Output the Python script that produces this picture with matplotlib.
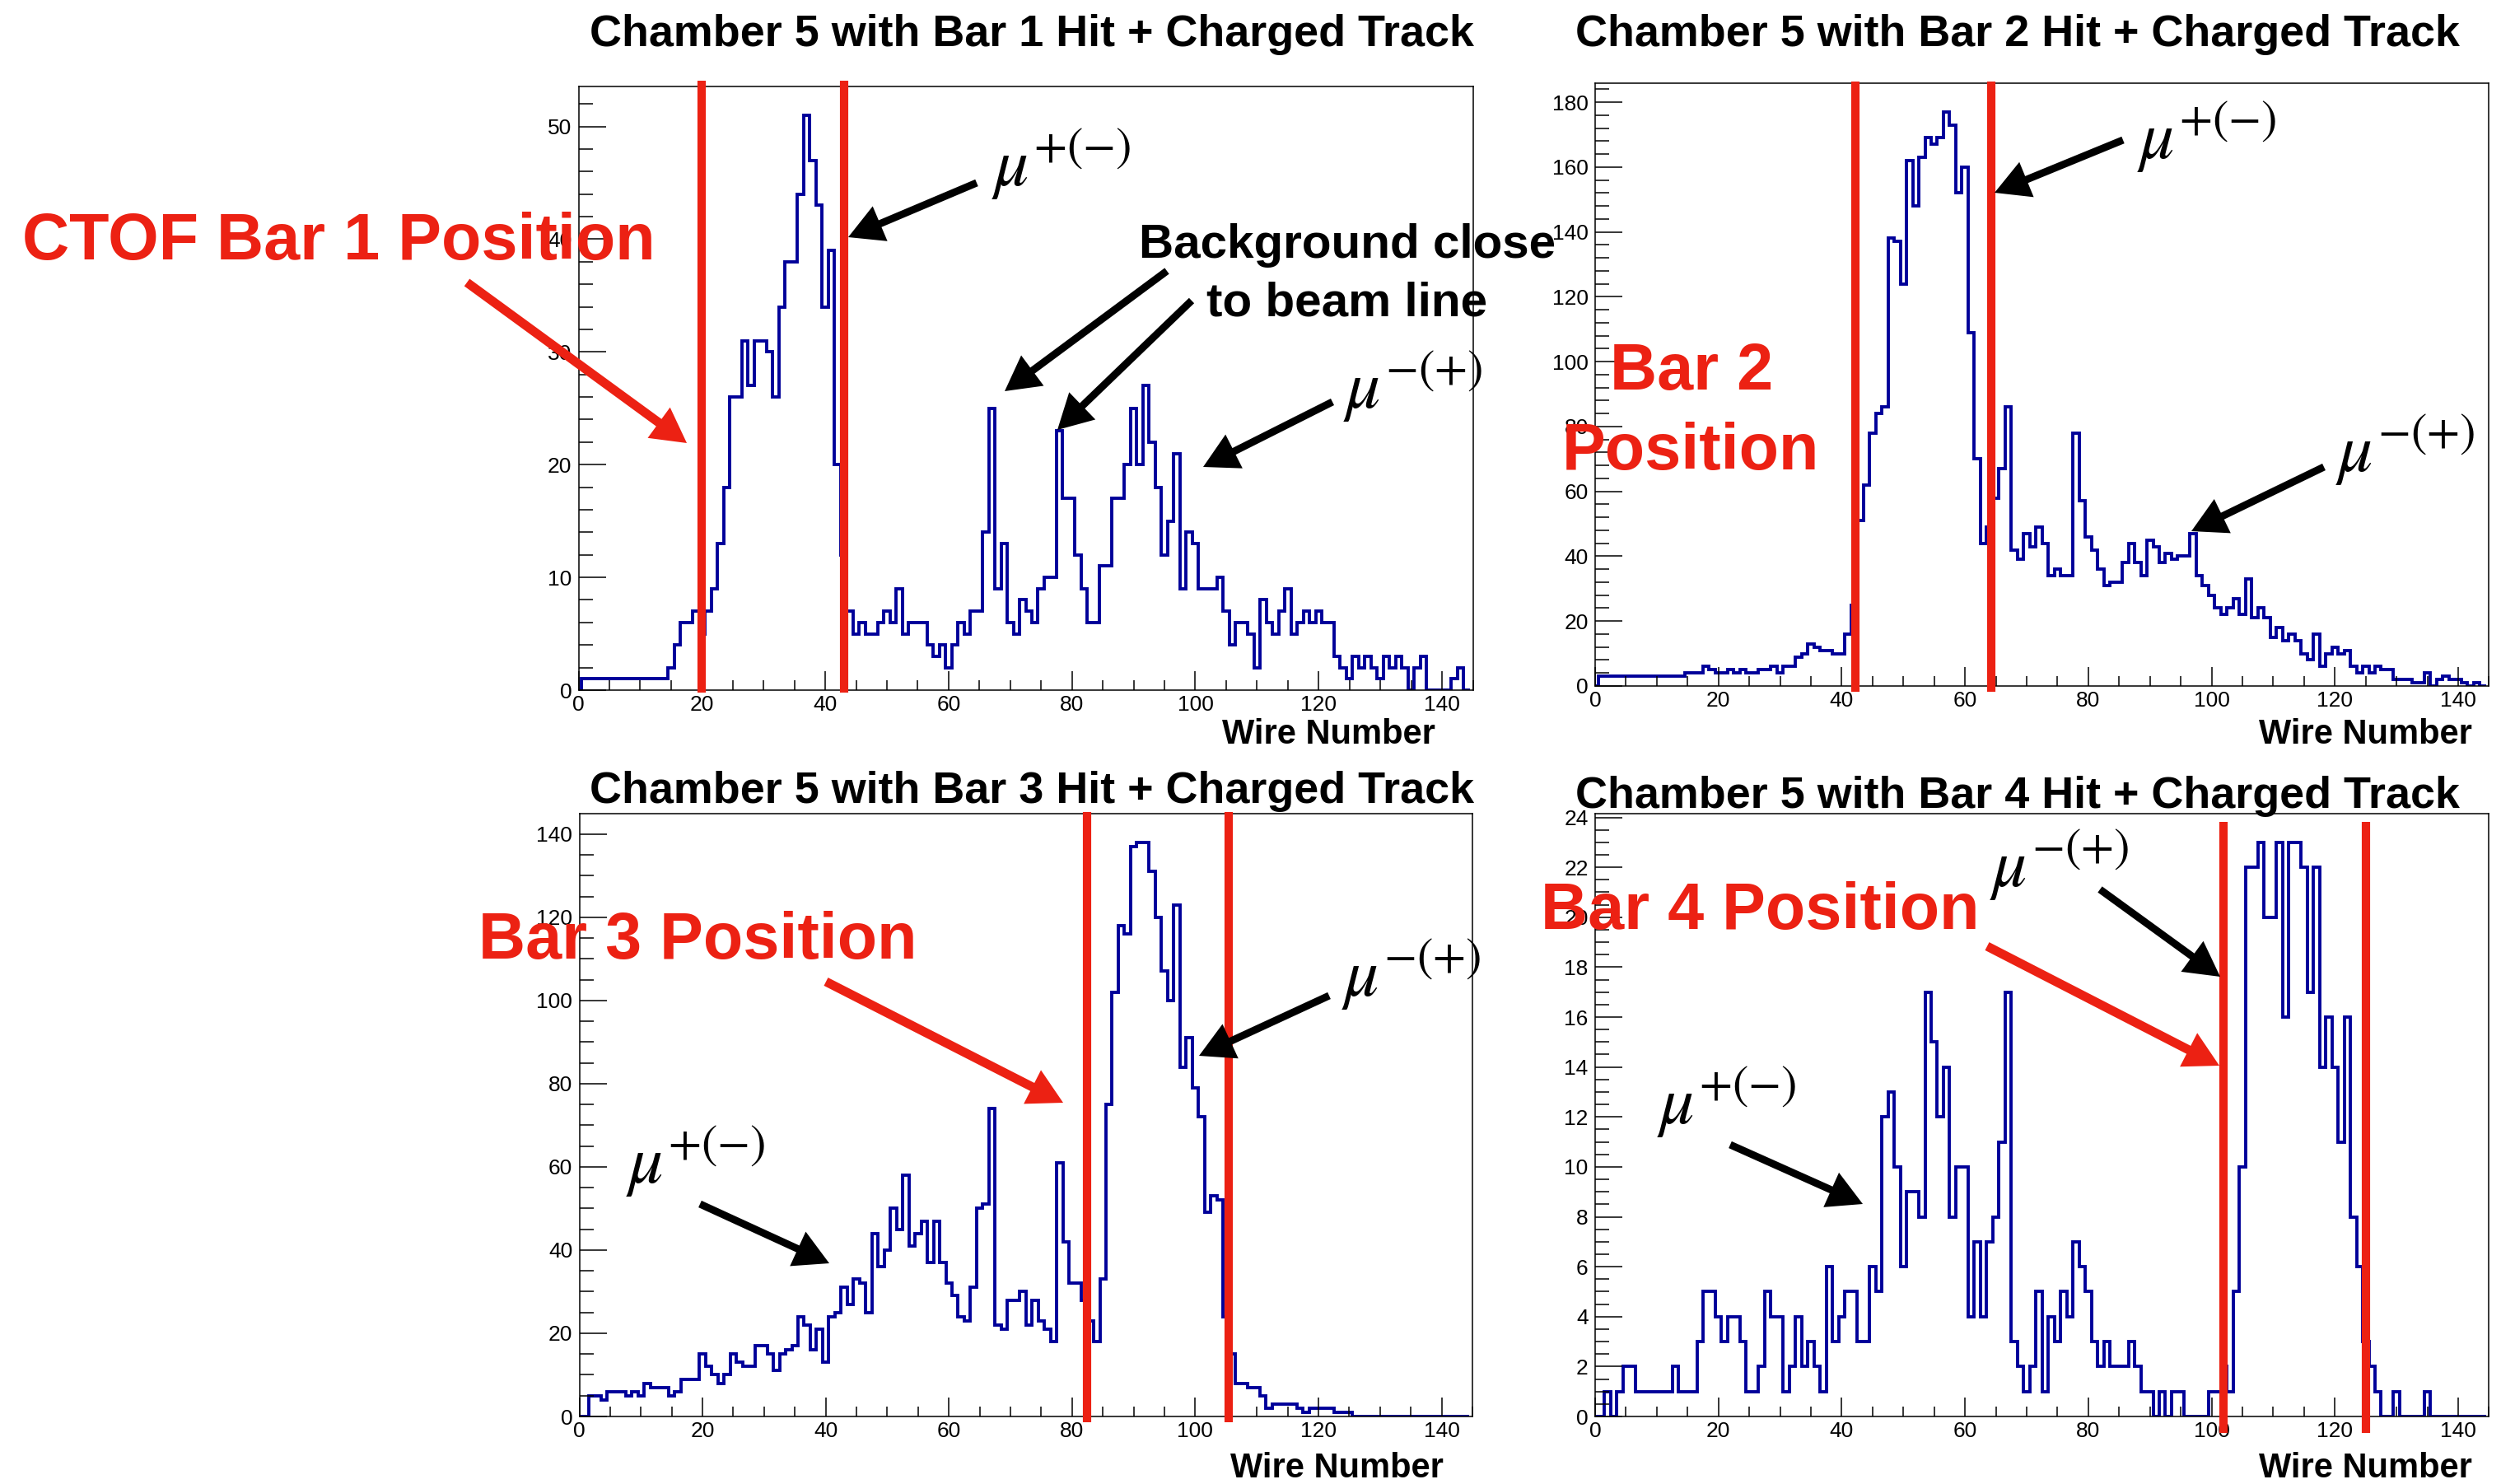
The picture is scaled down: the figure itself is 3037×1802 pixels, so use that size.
import numpy as np
import matplotlib
matplotlib.use("Agg")
import matplotlib.pyplot as plt
from matplotlib.ticker import MultipleLocator
from matplotlib.patches import FancyArrow

W, H = 3037, 1802

# one bin per wire, centred on the wire number
wire_edges = np.arange(-0.5, 145.5, 1.0)

bar1_counts = [0, 1, 1, 1, 1, 1, 1, 1, 1, 1,
               1, 1, 1, 1, 1, 2, 4, 6, 6, 7,
               5, 7, 9, 13, 18, 26, 26, 31, 27, 31,
               31, 30, 26, 34, 38, 38, 44, 51, 47, 43,
               34, 39, 20, 12, 7, 5, 6, 5, 5, 6,
               7, 6, 9, 5, 6, 6, 6, 4, 3, 4,
               2, 4, 6, 5, 7, 7, 14, 25, 9, 13,
               6, 5, 8, 7, 6, 9, 10, 10, 23, 17,
               17, 12, 9, 6, 6, 11, 11, 17, 17, 20,
               25, 20, 27, 22, 18, 12, 15, 21, 9, 14,
               13, 9, 9, 9, 10, 7, 4, 6, 6, 5,
               2, 8, 6, 5, 7, 9, 5, 6, 7, 6,
               7, 6, 6, 3, 2, 1, 3, 2, 3, 2,
               1, 3, 2, 3, 2, 0, 2, 3, 0, 0,
               0, 0, 1, 2, 0]

bar2_counts = [0, 3, 3, 3, 3, 3, 3, 3, 3, 3,
               3, 3, 3, 3, 3, 4, 4, 4, 6, 5,
               4, 4, 5, 4, 5, 4, 4, 5, 5, 6,
               4, 6, 6, 9, 10, 13, 12, 11, 11, 10,
               10, 16, 25, 51, 62, 78, 84, 86, 138, 137,
               124, 162, 148, 163, 169, 167, 169, 177, 173, 152,
               160, 109, 70, 44, 49, 58, 67, 86, 42, 39,
               47, 43, 49, 44, 34, 36, 34, 34, 78, 57,
               46, 42, 36, 31, 32, 32, 38, 44, 38, 34,
               45, 43, 38, 41, 39, 40, 40, 47, 34, 31,
               28, 24, 22, 24, 27, 22, 33, 21, 24, 21,
               15, 18, 14, 16, 14, 10, 8, 16, 6, 10,
               12, 10, 11, 6, 4, 6, 4, 6, 5, 5,
               2, 2, 2, 1, 1, 4, 0, 2, 3, 2,
               2, 1, 0, 1, 0]

bar3_counts = [0, 0, 5, 5, 4, 6, 6, 6, 5, 6,
               5, 8, 7, 7, 7, 5, 6, 9, 9, 9,
               15, 12, 10, 8, 10, 15, 13, 12, 12, 17,
               17, 15, 11, 15, 16, 17, 24, 22, 16, 21,
               13, 24, 25, 31, 27, 33, 32, 25, 44, 36,
               40, 50, 45, 58, 41, 44, 47, 37, 47, 37,
               32, 29, 24, 23, 31, 50, 51, 74, 22, 21,
               28, 28, 30, 22, 28, 23, 21, 18, 61, 42,
               32, 32, 28, 23, 18, 33, 75, 102, 118, 116,
               137, 138, 138, 131, 120, 107, 100, 123, 84, 91,
               79, 72, 49, 53, 52, 24, 15, 8, 8, 7,
               7, 5, 2, 3, 3, 3, 3, 2, 1, 2,
               2, 2, 2, 1, 1, 1, 0, 0, 0, 0,
               0, 0, 0, 0, 0, 0, 0, 0, 0, 0,
               0, 0, 0, 0, 0]

bar4_counts = [0, 0, 1, 0, 1, 2, 2, 1, 1, 1,
               1, 1, 1, 2, 1, 1, 1, 3, 5, 5,
               4, 3, 4, 4, 3, 1, 1, 2, 5, 4,
               4, 1, 2, 4, 2, 3, 2, 1, 6, 3,
               4, 5, 5, 3, 3, 6, 5, 12, 13, 10,
               6, 9, 9, 8, 17, 15, 12, 14, 8, 10,
               10, 4, 7, 4, 7, 8, 11, 17, 3, 2,
               1, 2, 5, 1, 4, 3, 5, 4, 7, 6,
               5, 3, 2, 3, 2, 2, 2, 3, 2, 1,
               1, 0, 1, 0, 1, 1, 0, 0, 0, 0,
               1, 1, 2, 1, 5, 10, 22, 22, 23, 20,
               20, 23, 16, 23, 23, 22, 17, 22, 14, 16,
               14, 11, 16, 8, 6, 3, 2, 1, 0, 0,
               1, 0, 0, 0, 0, 1, 0, 0, 0, 0,
               0, 0, 0, 0, 0]

# CTOF bar edges (wire number) drawn as red lines
bar_positions = [[20.0, 43.0], [42.2, 64.2], [82.4, 105.4], [101.9, 125.0]]

titles = ["Chamber 5 with Bar 1 Hit + Charged Track",
          "Chamber 5 with Bar 2 Hit + Charged Track",
          "Chamber 5 with Bar 3 Hit + Charged Track",
          "Chamber 5 with Bar 4 Hit + Charged Track"]

all_counts = [bar1_counts, bar2_counts, bar3_counts, bar4_counts]

# layout in pixels: left, top, right, bottom of each frame
panel_box = [(702.5, 105, 1788.5, 838), (1937, 101, 3022.5, 833),
             (703.5, 988, 1788, 1720), (1937, 988, 3022.5, 1720)]
y_major = [10, 20, 20, 2]
y_minor = [2, 4, 5, 0.5]
line_span = [(-0.004, 1.009), (-0.010, 1.003), (-0.010, 1.003), (-0.028, 0.986)]

blue = "#000099"
red = "#ec2113"

plt.rcParams["font.family"] = ["Liberation Sans", "DejaVu Sans"]
plt.rcParams["mathtext.fontset"] = "stix"

fig = plt.figure(figsize=(W / 100, H / 100), dpi=100)
fig.patch.set_facecolor("white")

for i in range(4):
    l, t, r, b = panel_box[i]
    ax = fig.add_axes([l / W, 1 - b / H, (r - l) / W, (b - t) / H])
    counts = np.array(all_counts[i])
    ax.stairs(counts, wire_edges, color=blue, lw=2.8)
    ax.set_xlim(0, 145)
    ax.set_ylim(0, 1.05 * counts.max())
    ax.xaxis.set_major_locator(MultipleLocator(20))
    ax.xaxis.set_minor_locator(MultipleLocator(5))
    ax.yaxis.set_major_locator(MultipleLocator(y_major[i]))
    ax.yaxis.set_minor_locator(MultipleLocator(y_minor[i]))
    ax.tick_params(which="both", direction="in", top=False, right=False,
                   labelsize=19, width=1.1)
    ax.tick_params(axis="y", which="major", length=23.8, pad=6)
    ax.tick_params(axis="y", which="minor", length=12.2)
    ax.tick_params(axis="x", which="major", length=16.6, pad=4)
    ax.tick_params(axis="x", which="minor", length=8.6)
    for sp in ax.spines.values():
        sp.set_linewidth(1.1)
    for xb in bar_positions[i]:
        ax.plot([xb, xb], line_span[i], transform=ax.get_xaxis_transform(),
                color=red, lw=7.3, solid_capstyle="butt", clip_on=False, zorder=5)

# overlay in pixel coordinates for titles, labels and arrows
ov = fig.add_axes([0, 0, 1, 1], zorder=10)
ov.set_xlim(0, W)
ov.set_ylim(H, 0)
ov.axis("off")

title_pos = [(1253, 56), (2450, 56), (1253, 975), (2450, 981)]
for (cx, by), s in zip(title_pos, titles):
    ov.text(cx, by, s, fontsize=38.8, fontweight="bold", ha="center", va="baseline")

xlabel_pos = [(1743, 903), (3002, 903), (1753, 1794), (3002, 1794)]
for x, y in xlabel_pos:
    ov.text(x, y, "Wire Number", fontsize=30, fontweight="bold", ha="right", va="baseline")


def arrow(x0, y0, x1, y1, color, shaft):
    ov.add_patch(FancyArrow(x0, y0, x1 - x0, y1 - y0, width=shaft, head_width=46,
                            head_length=42, length_includes_head=True,
                            color=color, lw=0))


# red position labels
ov.text(27, 315, "CTOF Bar 1 Position", color=red, fontsize=57, fontweight="bold",
        ha="left", va="baseline")
ov.text(2054, 473, "Bar 2", color=red, fontsize=57, fontweight="bold",
        ha="center", va="baseline")
ov.text(2053, 570, "Position", color=red, fontsize=57, fontweight="bold",
        ha="center", va="baseline")
ov.text(581, 1164, "Bar 3 Position", color=red, fontsize=57, fontweight="bold",
        ha="left", va="baseline")
ov.text(1871, 1128, "Bar 4 Position", color=red, fontsize=57, fontweight="bold",
        ha="left", va="baseline")

arrow(567, 343, 834, 538, red, 11)
arrow(1003, 1192, 1291, 1339, red, 11)
arrow(2413, 1149, 2695, 1294, red, 11)

# background note
ov.text(1636, 313, "Background close", fontsize=42, fontweight="bold",
        ha="center", va="baseline")
ov.text(1636, 384, "to beam line", fontsize=42, fontweight="bold",
        ha="center", va="baseline")
arrow(1417, 329, 1220, 475, "black", 9)
arrow(1447, 365, 1284, 522, "black", 9)

# muon labels
mu_plus = r"$\mu^{+(-)}$"
mu_minus = r"$\mu^{-(+)}$"
mu_labels = [(1204, 226, mu_plus), (1631, 496, mu_minus),
             (2595, 193, mu_plus), (2836, 573, mu_minus),
             (760, 1437, mu_plus), (1629, 1210, mu_minus),
             (2012, 1365, mu_plus), (2416, 1077, mu_minus)]
for x, y, s in mu_labels:
    ov.text(x, y, s, fontsize=60, ha="left", va="baseline")

arrow(1186, 222, 1030, 288, "black", 9)
arrow(1618, 488, 1461, 567, "black", 9)
arrow(2578, 170, 2422, 234, "black", 9)
arrow(2822, 567, 2661, 645, "black", 9)
arrow(850, 1462, 1007, 1534, "black", 9)
arrow(1614, 1209, 1456, 1282, "black", 9)
arrow(2101, 1390, 2262, 1462, "black", 9)
arrow(2550, 1080, 2696, 1186, "black", 9)

fig.savefig("out.png", dpi=100, facecolor="white")
